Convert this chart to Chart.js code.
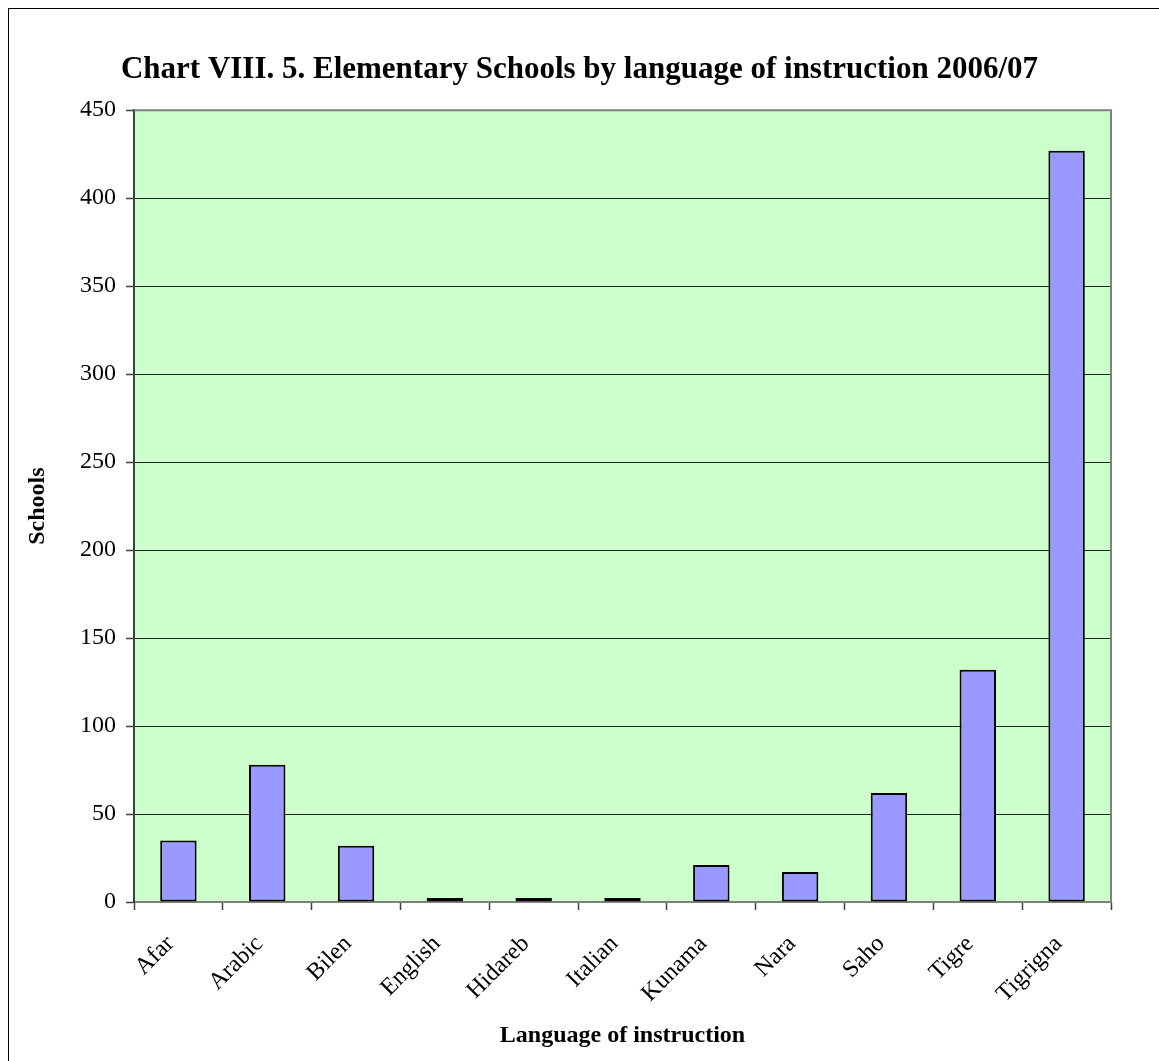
<!DOCTYPE html>
<html>
<head>
<meta charset="utf-8">
<script src="https://cdn.jsdelivr.net/npm/chart.js@4/dist/chart.umd.min.js"></script>
<style>
body{margin:0;background:#fff;}
#wrap{position:relative;width:1159px;height:1061px;}
#frame{position:absolute;left:8px;top:8px;right:0;bottom:0;border-left:1.5px solid #000;border-top:1.5px solid #000;}
canvas{position:absolute;left:0;top:0;}
</style>
</head>
<body>
<div id="wrap">
<div id="frame"></div>
<canvas id="chart" width="1159" height="1061"></canvas>
</div>
<script>

// data
const languages = ["Afar","Arabic","Bilen","English","Hidareb","Italian","Kunama","Nara","Saho","Tigre","Tigrigna"]
const schools = [35,78,32,1,1,1,21,17,62,132,427]
const yTicks = [0,50,100,150,200,250,300,350,400,450]

const serif = "'Liberation Serif','Times New Roman',serif"

/* plot background and top/right border */
const plotBox = {
id:"plotBox",
beforeDraw(chart){
const {ctx, chartArea:a} = chart
ctx.save()
ctx.fillStyle = "#CCFFCC"
ctx.fillRect(a.left, a.top, a.right-a.left, a.bottom-a.top)
ctx.restore()
},
afterDatasetsDraw(chart){
const {ctx, chartArea:a} = chart
ctx.save()
ctx.strokeStyle = "#808080"
ctx.lineWidth = 2
ctx.beginPath()
ctx.moveTo(a.left, a.top)
ctx.lineTo(a.right, a.top)
ctx.lineTo(a.right, a.bottom)
ctx.stroke()
ctx.restore()
}
}

new Chart(document.getElementById("chart"),{
type:"bar",
data:{
labels:languages,
datasets:[{
data:schools,
backgroundColor:"#9999FF",
borderColor:"#000000",
borderWidth:2,
borderSkipped:false,
minBarLength:4,
categoryPercentage:1,
barPercentage:0.41
}]
},
options:{
responsive:false,
animation:false,
layout:{padding:0},
plugins:{
legend:{display:false},
tooltip:{enabled:false},
title:{
display:true,
text:"Chart VIII. 5. Elementary Schools by language of instruction 2006/07",
color:"#000",
font:{family:serif,size:31,weight:"bold"},
padding:{top:51,bottom:22}
}
},
scales:{
x:{
offset:true,
grid:{offset:true,drawOnChartArea:false,drawTicks:true,tickLength:8,color:"#808080",tickColor:"#404040",tickWidth:1.5},
border:{color:"#808080",width:2},
ticks:{color:"#000",font:{family:serif,size:24},minRotation:45,maxRotation:45,padding:20,labelOffset:-8,autoSkip:false},
title:{display:true,text:"Language of instruction",color:"#000",font:{family:serif,size:24,weight:"bold"},padding:{top:0,bottom:11}},
afterFit(s){s.height = 159}
},
y:{
min:0,
max:450,
afterBuildTicks(s){s.ticks = yTicks.map(v=>({value:v}))},
grid:{color:"#222",lineWidth:1,tickLength:8,tickColor:"#404040",tickWidth:1.5},
border:{color:"#404040",width:2},
ticks:{color:"#000",font:{family:serif,size:24},padding:10},
title:{display:true,text:"Schools",color:"#000",font:{family:serif,size:24,weight:"bold"},padding:{top:23,bottom:0}},
afterFit(s){s.width = 134}
},
// empty space to the right of the plot
gap:{
position:"right",
grid:{display:false},
border:{display:false},
ticks:{display:false},
afterFit(s){s.width = 48}
}
}
},
plugins:[plotBox]
})

</script>
</body>
</html>
